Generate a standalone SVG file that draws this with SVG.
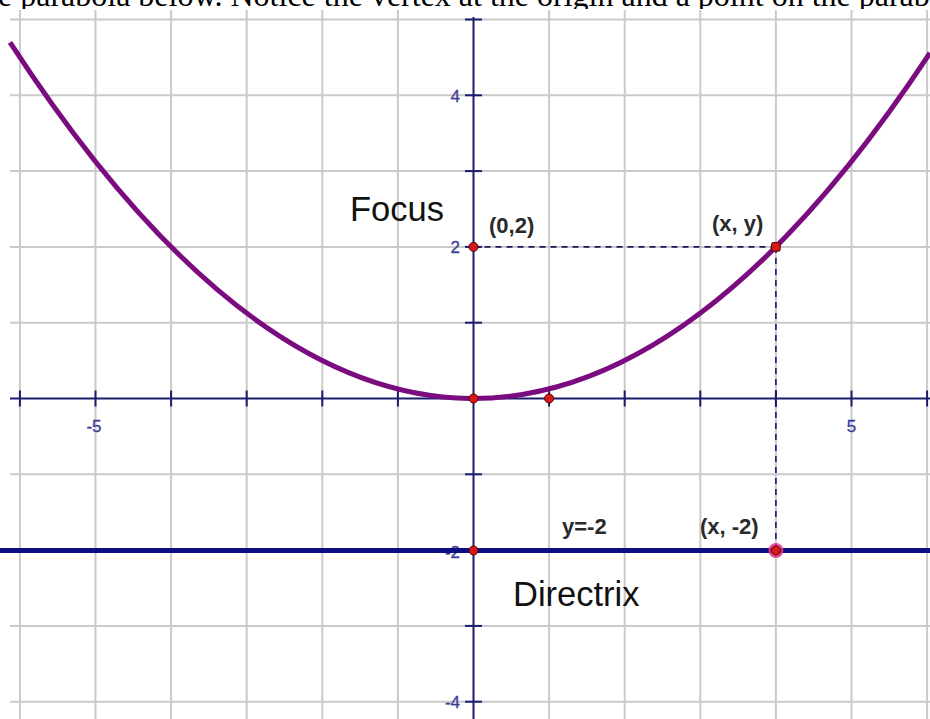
<svg xmlns="http://www.w3.org/2000/svg" width="930" height="719" viewBox="0 0 930 719">
  <style>
    .grid line { stroke: #cacaca; stroke-width: 2; }
    .axis { stroke: #1c1c6e; stroke-width: 2; fill: none; }
    .tick { stroke: #1c1c6e; stroke-width: 2; }
    .ticklabel { font-family: "Liberation Sans", Arial, sans-serif; font-size: 17px; fill: #3c3c98; text-anchor: end; stroke: #3c3c98; stroke-width: 0.3; }
    .xlabel { font-family: "Liberation Sans", Arial, sans-serif; font-size: 17px; fill: #3c3c98; text-anchor: middle; stroke: #3c3c98; stroke-width: 0.3; }
    .curve { stroke: #7a0c80; stroke-width: 5; fill: none; }
    .dash { stroke: #1a1a5e; stroke-width: 1.6; stroke-dasharray: 6 5; fill: none; }
    .directrix { stroke: #0e0e82; stroke-width: 5; }
    .pt { fill: #d41a1a; stroke: #5a0000; stroke-width: 1; }
    .halo { fill: #e8308a; opacity: 0.85; }
    .lbl { font-family: "Liberation Sans", Arial, sans-serif; font-size: 22px; font-weight: bold; fill: #2a2a2a; }
    .big { font-family: "Liberation Sans", Arial, sans-serif; font-size: 34.5px; fill: #111111; }
    .top { font-family: "Liberation Serif", "Times New Roman", serif; font-size: 32px; fill: #000000; }
  </style>
  <rect x="0" y="0" width="930" height="719" fill="#ffffff"/>
  <text class="top" x="-2" y="6">e parabola below. Notice the vertex at the origin and a point on the parabola</text>
  <rect x="0" y="9" width="930" height="710" fill="#ffffff"/>

  <g id="grid" class="grid">
    <line x1="19.9" y1="10" x2="19.9" y2="719"/>
    <line x1="95.5" y1="10" x2="95.5" y2="719"/>
    <line x1="171.1" y1="10" x2="171.1" y2="719"/>
    <line x1="246.7" y1="10" x2="246.7" y2="719"/>
    <line x1="322.3" y1="10" x2="322.3" y2="719"/>
    <line x1="397.9" y1="10" x2="397.9" y2="719"/>
    <line x1="549.1" y1="10" x2="549.1" y2="719"/>
    <line x1="624.7" y1="10" x2="624.7" y2="719"/>
    <line x1="700.3" y1="10" x2="700.3" y2="719"/>
    <line x1="775.9" y1="10" x2="775.9" y2="719"/>
    <line x1="851.5" y1="10" x2="851.5" y2="719"/>
    <line x1="927.1" y1="10" x2="927.1" y2="719"/>
    <line x1="10" y1="19.5" x2="930" y2="19.5"/>
    <line x1="10" y1="95.3" x2="930" y2="95.3"/>
    <line x1="10" y1="171.1" x2="930" y2="171.1"/>
    <line x1="10" y1="246.9" x2="930" y2="246.9"/>
    <line x1="10" y1="322.7" x2="930" y2="322.7"/>
    <line x1="10" y1="474.3" x2="930" y2="474.3"/>
    <line x1="10" y1="550.1" x2="930" y2="550.1"/>
    <line x1="10" y1="625.9" x2="930" y2="625.9"/>
    <line x1="10" y1="701.7" x2="930" y2="701.7"/>
  </g>

  <g id="tick-labels">
    <text class="ticklabel" x="460" y="102">4</text>
    <text class="ticklabel" x="460" y="252.5">2</text>
    <text class="ticklabel" x="460" y="558">-2</text>
    <text class="ticklabel" x="460" y="708">-4</text>
    <text class="xlabel" x="94" y="432">-5</text>
    <text class="xlabel" x="851.5" y="432">5</text>
  </g>

  <g id="axes">
    <line class="axis" x1="10" y1="398.5" x2="930" y2="398.5"/>
    <line class="axis" x1="473.5" y1="17" x2="473.5" y2="719"/>
    <g class="tick">
      <line x1="19.9" y1="390.5" x2="19.9" y2="406.5"/>
      <line x1="95.5" y1="390.5" x2="95.5" y2="406.5"/>
      <line x1="171.1" y1="390.5" x2="171.1" y2="406.5"/>
      <line x1="246.7" y1="390.5" x2="246.7" y2="406.5"/>
      <line x1="322.3" y1="390.5" x2="322.3" y2="406.5"/>
      <line x1="397.9" y1="390.5" x2="397.9" y2="406.5"/>
      <line x1="549.1" y1="390.5" x2="549.1" y2="406.5"/>
      <line x1="624.7" y1="390.5" x2="624.7" y2="406.5"/>
      <line x1="700.3" y1="390.5" x2="700.3" y2="406.5"/>
      <line x1="775.9" y1="390.5" x2="775.9" y2="406.5"/>
      <line x1="851.5" y1="390.5" x2="851.5" y2="406.5"/>
      <line x1="927.1" y1="390.5" x2="927.1" y2="406.5"/>
      <line x1="465" y1="19.5" x2="482" y2="19.5"/>
      <line x1="465" y1="95.3" x2="482" y2="95.3"/>
      <line x1="465" y1="171.1" x2="482" y2="171.1"/>
      <line x1="465" y1="246.9" x2="482" y2="246.9"/>
      <line x1="465" y1="322.7" x2="482" y2="322.7"/>
      <line x1="465" y1="474.3" x2="482" y2="474.3"/>
      <line x1="465" y1="550.1" x2="482" y2="550.1"/>
      <line x1="465" y1="625.9" x2="482" y2="625.9"/>
      <line x1="465" y1="701.7" x2="482" y2="701.7"/>
    </g>
  </g>

  <g id="parabola">
    <path class="curve" d="M 10 42.3 Q 470 749.2 930 53"/>
  </g>

  <g id="connectors">
    <line class="dash" x1="473.5" y1="246.9" x2="775.9" y2="246.9"/>
    <line class="dash" x1="775.9" y1="246.9" x2="775.9" y2="550.5"/>
  </g>

  <g id="directrix">
    <line class="directrix" x1="0" y1="550.5" x2="930" y2="550.5"/>
  </g>

  <g id="focus">
    <circle class="pt" cx="473.5" cy="246.9" r="4.5"/>
    <text class="big" x="350" y="221">Focus</text>
    <text class="lbl" x="489" y="233">(0,2)</text>
  </g>
  <g id="vertex">
    <circle class="pt" cx="473.5" cy="398.5" r="4.5"/>
  </g>
  <g id="point-x1">
    <circle class="pt" cx="549.1" cy="398.5" r="4.5"/>
  </g>
  <g id="point-xy">
    <rect class="pt" x="771.6" y="242.6" width="8.6" height="8.6" rx="1.5"/>
    <text class="lbl" x="712" y="230.5">(x, y)</text>
  </g>
  <g id="directrix-y-intercept">
    <circle class="pt" cx="473.5" cy="550.5" r="4.5"/>
    <text class="lbl" x="562" y="534">y=-2</text>
    <text class="big" x="513" y="606">Directrix</text>
  </g>
  <g id="point-x-neg2">
    <circle class="halo" cx="775.9" cy="550.5" r="7.5"/>
    <circle class="pt" cx="775.9" cy="550.5" r="4.5"/>
    <text class="lbl" x="700" y="534">(x, -2)</text>
  </g>
</svg>
